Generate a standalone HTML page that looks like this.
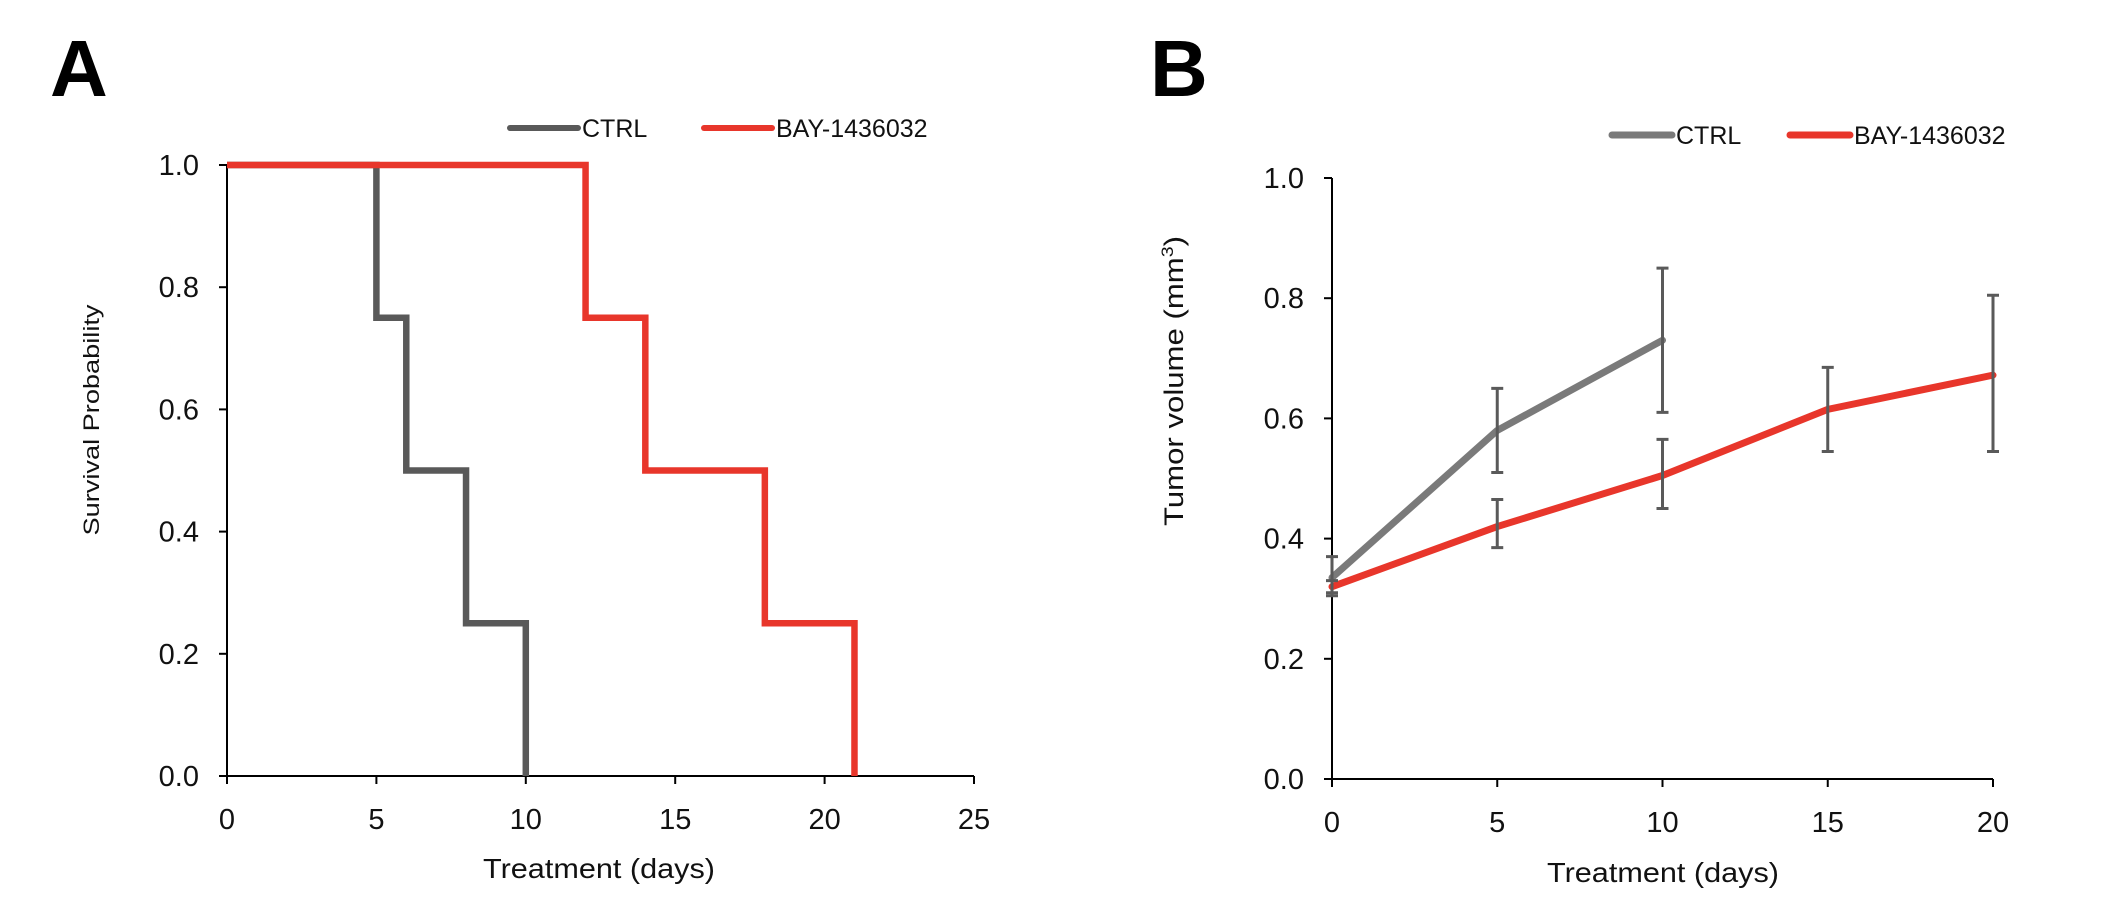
<!DOCTYPE html>
<html><head><meta charset="utf-8"><style>
html,body{margin:0;padding:0;background:#fff;}
svg{display:block;font-family:"Liberation Sans",sans-serif;}
</style></head><body>
<svg id="fig" width="2104" height="922" viewBox="0 0 2104 922" xmlns="http://www.w3.org/2000/svg">
<text x="50" y="96" font-size="80" font-weight="bold">A</text>
<text x="1150" y="96" font-size="80" font-weight="bold">B</text>
<g id="A"></g>
<g id="B"></g>
</svg>
<script>
// Panel A data
const kmTicksX = [0,5,10,15,20,25];
const kmTicksY = [0,0.2,0.4,0.6,0.8,1.0];
const ctrlTimes = [0,5,6,8,10];
const ctrlSurv = [1.0,0.75,0.5,0.25,0];
const bayTimes = [0,12,14,18,21];
const baySurv = [1.0,0.75,0.5,0.25,0];
// Panel B data
const tvTicksX = [0,5,10,15,20];
const tvTicksY = [0,0.2,0.4,0.6,0.8,1.0];
const ctrlDays = [0,5,10];
const ctrlVol = [0.335,0.58,0.73];
const ctrlLo = [0.305,0.51,0.61];
const ctrlHi = [0.37,0.65,0.85];
const bayDays = [0,5,10,15,20];
const bayVol = [0.32,0.42,0.505,0.615,0.672];
const bayLo = [0.31,0.385,0.45,0.545,0.545];
const bayHi = [0.33,0.465,0.565,0.685,0.805];

const NS="http://www.w3.org/2000/svg";
function mk(p,tag,at,txt){const e=document.createElementNS(NS,tag);for(const k in at)e.setAttribute(k,at[k]);if(txt!==undefined)e.textContent=txt;p.appendChild(e);return e;}
const GRAY="#595959", LGRAY="#7a7a7a", RED="#e8362b";

function axes(g,x,y,tx,ty,x0,x1,y0,y1,fs){
  const a=mk(g,'line',{x1:x(x0),y1:y(0),x2:x(x1),y2:y(0),stroke:'#000','stroke-width':2});
  
  
  const b=mk(g,'line',{x1:x(x0),y1:y(y0),x2:x(x0),y2:y(y1),stroke:'#000','stroke-width':2});
  
  
  tx.forEach(v=>{
    const t=mk(g,'line',{x1:x(v),y1:y(0),x2:x(v),y2:y(0)+8,stroke:'#000','stroke-width':2});
    
    
    const l=mk(g,'text',{x:x(v),y:y(0)+53,'font-size':fs,'text-anchor':'middle',fill:'#111'},String(v));
    
    
  });
  ty.forEach(v=>{
    const t=mk(g,'line',{x1:x(x0)-8,y1:y(v),x2:x(x0),y2:y(v),stroke:'#000','stroke-width':2});
    
    
    const l=mk(g,'text',{x:x(x0)-28,y:y(v)+10,'font-size':fs,'text-anchor':'end',fill:'#111'},v.toFixed(1));
    
    
  });
}
function legend(g,x,y,color,label,len,w){
  const l=mk(g,'line',{x1:x,y1:y,x2:x+len,y2:y,stroke:color,'stroke-width':w,'stroke-linecap':'round'});
  
  
  const t=mk(g,'text',{x:x+len+4,y:y+9,'font-size':25,fill:'#111'},label);
  
  
}

// Panel A
(function(){
  const g=document.getElementById('A');
  const x=v=>227+v*(974-227)/25, y=v=>776-v*(776-165);
  axes(g,x,y,kmTicksX,kmTicksY,0,25,0,1,29);
  function step(ts,ss,color,name){
    let d=`M${x(ts[0])},${y(ss[0])}`;
    for(let i=1;i<ts.length;i++){d+=` H${x(ts[i])} V${y(ss[i])}`;}
    const p=mk(g,'path',{d:d,fill:'none',stroke:color,'stroke-width':6.5});
    
    
  }
  step(ctrlTimes,ctrlSurv,GRAY,'ctrl-survival-curve');
  step(bayTimes,baySurv,RED,'bay-survival-curve');
  legend(g,510,128,GRAY,'CTRL',68,6);
  legend(g,704,128,RED,'BAY-1436032',68,6);
  const xt=mk(g,'text',{x:599,y:878,'font-size':28,'text-anchor':'middle',fill:'#111',textLength:232,lengthAdjust:'spacingAndGlyphs'},'Treatment (days)');
  
  
  const yt=mk(g,'text',{x:0,y:0,'font-size':22,'text-anchor':'middle',fill:'#111',transform:'translate(99,420) rotate(-90)',textLength:231,lengthAdjust:'spacingAndGlyphs'},'Survival Probability');
  
  
})();

// Panel B
(function(){
  const g=document.getElementById('B');
  const x=v=>1332+v*(1993-1332)/20, y=v=>779-v*(779-178);
  axes(g,x,y,tvTicksX,tvTicksY,0,20,0,1,29);
  function errs(ds,lo,hi,name){
    ds.forEach((d,i)=>{
      const p=mk(g,'path',{d:`M${x(d)},${y(lo[i])} V${y(hi[i])} M${x(d)-6},${y(lo[i])} H${x(d)+6} M${x(d)-6},${y(hi[i])} H${x(d)+6}`,stroke:'#5a5a5a','stroke-width':3,fill:'none'});
      
      
    });
  }
  function line(ds,vs,color,name){
    const p=mk(g,'polyline',{points:ds.map((d,i)=>x(d)+','+y(vs[i])).join(' '),fill:'none',stroke:color,'stroke-width':7,'stroke-linecap':'round','stroke-linejoin':'round'});
    
    
  }
  line(ctrlDays,ctrlVol,LGRAY,'ctrl-volume-line');
  errs(ctrlDays,ctrlLo,ctrlHi,'ctrl-error-bar');
  line(bayDays,bayVol,RED,'bay-volume-line');
  errs(bayDays,bayLo,bayHi,'bay-error-bar');
  legend(g,1612,135,LGRAY,'CTRL',60,7);
  legend(g,1790,135,RED,'BAY-1436032',60,7);
  const xt=mk(g,'text',{x:1663,y:882,'font-size':28,'text-anchor':'middle',fill:'#111',textLength:232,lengthAdjust:'spacingAndGlyphs'},'Treatment (days)');
  
  
  const yt=mk(g,'text',{x:0,y:0,'font-size':27,'text-anchor':'middle',fill:'#111',transform:'translate(1183,381) rotate(-90)'});
  
  
  yt.setAttribute('textLength','290');
  yt.setAttribute('lengthAdjust','spacingAndGlyphs');
  yt.appendChild(document.createTextNode('Tumor volume (mm'));
  const sup=mk(yt,'tspan',{'font-size':17,dy:-10},'3');
  const cl=mk(yt,'tspan',{dy:10},')');
})();
</script>
</body></html>
